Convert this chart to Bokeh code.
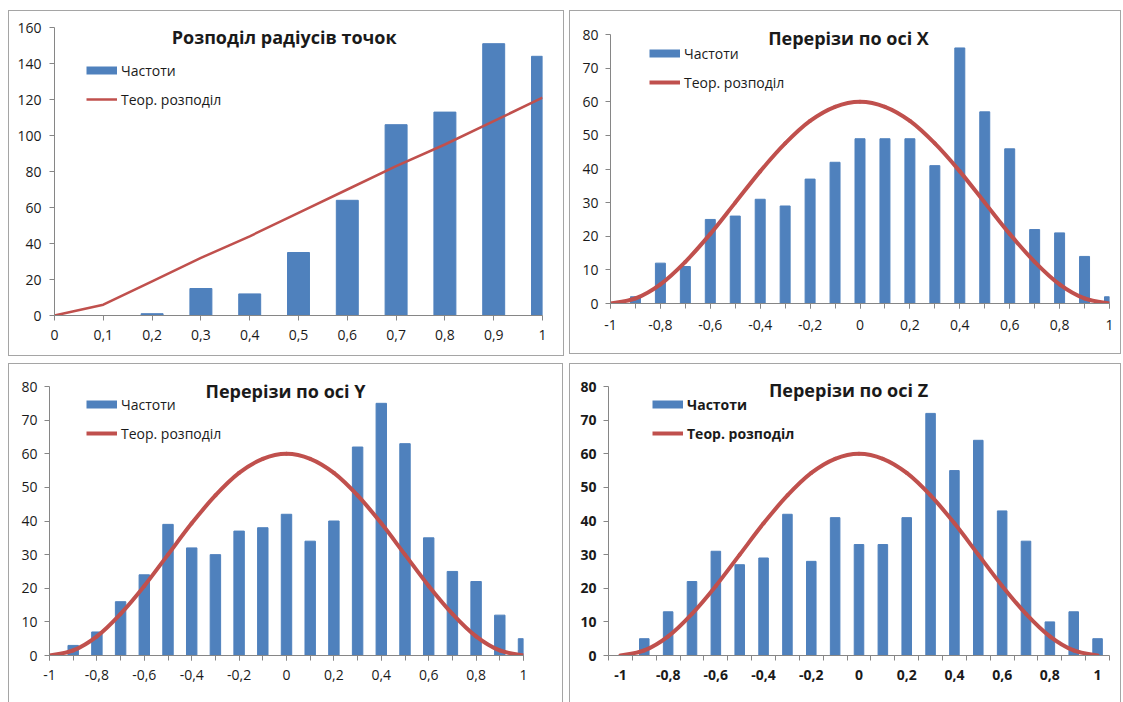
from bokeh.plotting import figure
from bokeh.models import Range1d, FixedTicker, Legend, LegendItem, Label, Spacer
from bokeh.layouts import row, column
from bokeh.embed import file_html
from bokeh.resources import INLINE

# ---------------- data ----------------
radius_bins = [0.0, 0.1, 0.2, 0.3, 0.4, 0.5, 0.6, 0.7, 0.8, 0.9, 1.0]
radius_tick_labels = ["0", "0,1", "0,2", "0,3", "0,4", "0,5", "0,6", "0,7", "0,8", "0,9", "1"]
radius_freq = [0, 0, 1, 15, 12, 35, 64, 106, 113, 151, 144]
radius_theory = [0, 6, 19, 32, 44, 57, 70, 83, 95, 108, 121]
radius_count_ticks = [0, 20, 40, 60, 80, 100, 120, 140, 160]

section_bins = [-1.0, -0.9, -0.8, -0.7, -0.6, -0.5, -0.4, -0.3, -0.2, -0.1, 0.0,
                0.1, 0.2, 0.3, 0.4, 0.5, 0.6, 0.7, 0.8, 0.9, 1.0]
section_tick_values = [-1.0, -0.8, -0.6, -0.4, -0.2, 0.0, 0.2, 0.4, 0.6, 0.8, 1.0]
section_tick_labels = ["-1", "-0,8", "-0,6", "-0,4", "-0,2", "0", "0,2", "0,4", "0,6", "0,8", "1"]
section_count_ticks = [0, 10, 20, 30, 40, 50, 60, 70, 80]

freq_x = [0, 2, 12, 11, 25, 26, 31, 29, 37, 42, 49, 49, 49, 41, 76, 57, 46, 22, 21, 14, 2]
freq_y = [0, 3, 7, 16, 24, 39, 32, 30, 37, 38, 42, 34, 40, 62, 75, 63, 35, 25, 22, 12, 5]
freq_z = [0, 5, 13, 22, 31, 27, 29, 42, 28, 41, 33, 33, 41, 72, 55, 64, 43, 34, 10, 13, 5]
section_theory = [0, 1.5, 5.7, 12.4, 20.7, 30, 39.3, 47.6, 54.3, 58.5, 60,
                  58.5, 54.3, 47.6, 39.3, 30, 20.7, 12.4, 5.7, 1.5, 0]

titles = ["Розподіл  радіусів точок", "Перерізи по осі X", "Перерізи по осі Y", "Перерізи по осі Z"]
legend_labels = ["Частоти", "Теор. розподіл"]

# ---------------- style ----------------
FONT = "Open Sans"
TXT = "#1a1a1a"
AXIS = "#868686"
BAR = "#4F81BD"
RED = "#C0504D"
EDGE = "#a5a5a5"
TOP_PAD = 3   # frame starts a little below the panel edge; axis max sits lower


def make_panel(w, h, bl, br, axis_top, bb, xr, ymax, bottom_edge=True):
    plot_h = h - axis_top - bb                 # pixels used by 0..ymax
    y_end = ymax * (h - TOP_PAD - bb) / plot_h  # frame extends above ymax for the title
    p = figure(width=w, height=h, x_range=Range1d(*xr), y_range=Range1d(0, y_end),
               output_backend="svg", toolbar_location=None, title=None,
               min_border_left=bl, min_border_right=br, min_border_top=TOP_PAD, min_border_bottom=bb)
    p.outline_line_color = None
    p.xgrid.visible = False
    p.ygrid.visible = False
    p.border_fill_color = None
    p.background_fill_color = None
    shadow = f"inset 1px 1px 0 {EDGE}, inset -1px 0 0 {EDGE}"
    if bottom_edge:
        shadow += f", inset 0 -1px 0 {EDGE}"
    p.styles = {"box-shadow": shadow}
    for ax in (p.xaxis[0], p.yaxis[0]):
        ax.axis_line_color = AXIS
        ax.major_tick_line_color = AXIS
        ax.minor_tick_line_color = AXIS
        ax.major_tick_in = 0
        ax.minor_tick_in = 0
        ax.major_tick_out = 5
        ax.minor_tick_out = 5
        ax.major_label_text_font = FONT
        ax.major_label_text_font_size = "14px"
        ax.major_label_text_color = TXT
    p.yaxis[0].bounds = (0, ymax)
    p.yaxis[0].major_label_standoff = 7
    p.xaxis[0].major_label_standoff = 9
    return p


def smooth_curve(p, xs, ys, width):
    # Excel-style smoothed line: cubic Bezier segments through the data points
    n = len(xs)
    x0, y0, x1, y1, cx0, cy0, cx1, cy1 = ([] for _ in range(8))
    for i in range(n - 1):
        a = max(i - 1, 0)
        b = min(i + 2, n - 1)
        x0.append(xs[i]); y0.append(ys[i]); x1.append(xs[i + 1]); y1.append(ys[i + 1])
        cx0.append(xs[i] + (xs[i + 1] - xs[a]) / 6); cy0.append(ys[i] + (ys[i + 1] - ys[a]) / 6)
        cx1.append(xs[i + 1] - (xs[b] - xs[i]) / 6); cy1.append(ys[i + 1] - (ys[b] - ys[i]) / 6)
    p.bezier(x0=x0, y0=y0, x1=x1, y1=y1, cx0=cx0, cy0=cy0, cx1=cx1, cy1=cy1,
             line_color=RED, line_width=width, line_cap="round")


def add_title(p, text, x, y, size="18px"):
    p.add_layout(Label(x=x, y=y, x_units="screen", y_units="screen", text=text,
                       text_font=FONT, text_font_size=size, text_font_style="bold",
                       text_color=TXT, text_align="center", text_baseline="middle"))


def add_legend(p, xs, ys, line_w, vx, vy, bold=False):
    # one-point proxies (draw nothing themselves) that give the legend its swatches
    sw_bar = p.line(x=xs[:1], y=ys[:1], line_color=BAR, line_width=8)
    sw_line = p.line(x=xs[:1], y=ys[:1], line_color=RED, line_width=line_w)
    leg = Legend(items=[LegendItem(label=legend_labels[0], renderers=[sw_bar]),
                        LegendItem(label=legend_labels[1], renderers=[sw_line])],
                 location=(vx, vy), orientation="vertical",
                 glyph_width=31, glyph_height=20, label_height=20, spacing=9,
                 padding=0, margin=0, border_line_color=None, background_fill_alpha=0,
                 label_standoff=4, label_text_font=FONT, label_text_font_size="14px",
                 label_text_color=TXT, label_text_font_style="bold" if bold else "normal")
    p.add_layout(leg)


# ---- panel 1: radius distribution ----
p1 = make_panel(556, 346, 46, 22, 17, 41, (0, 1), 160)
p1.vbar(x=radius_bins, top=radius_freq, width=0.045, color=BAR)
p1.line(x=radius_bins, y=radius_theory, line_color=RED, line_width=2.5)
p1.xaxis[0].ticker = FixedTicker(ticks=radius_bins)
p1.xaxis[0].major_label_overrides = dict(zip(radius_bins, radius_tick_labels))
p1.yaxis[0].ticker = FixedTicker(ticks=radius_count_ticks)
p1.yaxis[0].major_label_standoff = 8
add_title(p1, titles[0], 232, 279)
add_legend(p1, radius_bins, radius_theory, 2.5, 32, 206)


def section_panel(w, h, bl, br, bt, bb, xr, counts, title, tpos, lpos, bar_w,
                  between=False, bold=False, bottom_edge=True):
    p = make_panel(w, h, bl, br, bt, bb, xr, 80, bottom_edge=bottom_edge)
    p.vbar(x=section_bins, top=counts, width=bar_w, color=BAR)
    smooth_curve(p, section_bins, section_theory, 4)
    ax = p.xaxis[0]
    if between:
        edges = [c - 0.05 for c in section_bins] + [section_bins[-1] + 0.05]
        ax.ticker = FixedTicker(ticks=section_tick_values, minor_ticks=edges)
        ax.major_tick_out = 0
    else:
        ax.ticker = FixedTicker(ticks=section_tick_values, minor_ticks=section_bins)
    ax.major_label_overrides = dict(zip(section_tick_values, section_tick_labels))
    p.yaxis[0].ticker = FixedTicker(ticks=section_count_ticks)
    if bold:
        p.xaxis[0].major_label_text_font_style = "bold"
        p.yaxis[0].major_label_text_font_style = "bold"
    add_title(p, title, *tpos)
    add_legend(p, section_bins, section_theory, 4, *lpos, bold=bold)
    return p


p2 = section_panel(552, 344, 41, 12, 24, 51, (-1, 1), freq_x, titles[1], (238, 266), (39, 211), 0.04)
p2.xaxis[0].major_label_standoff = 11
p3 = section_panel(555, 339, 41, 40, 23, 47, (-1, 1), freq_y, titles[2], (236, 265), (37, 212), 0.044,
                   bottom_edge=False)
p4 = section_panel(552, 339, 39, 12, 23, 47, (-1.05, 1.05), freq_z, titles[3], (240, 266), (44, 212), 0.04,
                   between=True, bold=True, bottom_edge=False)

layout = column(
    Spacer(height=10),
    row(Spacer(width=8), column(p1), Spacer(width=5), column(p2)),
    Spacer(height=7),
    row(Spacer(width=8), column(p3), Spacer(width=6), column(p4)),
)

open("out.html", "w").write(file_html(layout, INLINE))
